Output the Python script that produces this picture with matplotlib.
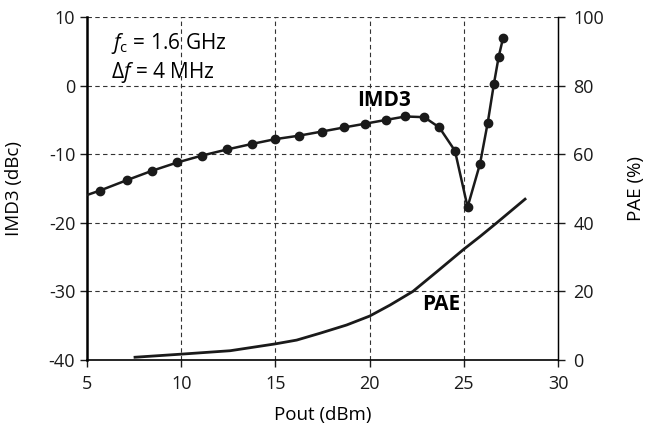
import numpy as np
import matplotlib
matplotlib.use("Agg")
import matplotlib.pyplot as plt

plt.rcParams['font.family'] = ['Open Sans', 'DejaVu Sans']
plt.rcParams['axes.unicode_minus'] = False
plt.rcParams['mathtext.fontset'] = 'custom'
plt.rcParams['mathtext.rm'] = 'Open Sans'
plt.rcParams['mathtext.it'] = 'Open Sans:italic'

# IMD3 (dBc) vs Pout (dBm), marked points
pout_imd = [5.69, 7.1, 8.47, 9.8, 11.1, 12.45, 13.76, 15.0, 16.25, 17.46, 18.64,
            19.77, 20.87, 21.9, 22.9, 23.7, 24.53, 25.2, 25.86, 26.27, 26.6,
            26.85, 27.08]
imd3 = [-15.3, -13.8, -12.4, -11.2, -10.2, -9.3, -8.5, -7.8, -7.3, -6.7, -6.1,
        -5.55, -5.0, -4.5, -4.6, -6.1, -9.5, -17.7, -11.4, -5.4, 0.3,
        4.2, 6.9]
# line continues to the left edge
imd_start = (5.0, -15.95)

# PAE (%) vs Pout (dBm)
pout_pae = [7.55, 10, 12.6, 15, 16.13, 17.37, 18.78, 20, 21.08, 22.3, 23.56,
            25, 25.86, 26.75, 28.25]
pae = [0.8, 1.7, 2.7, 4.7, 5.8, 7.8, 10.2, 12.8, 16.0, 20.0, 25.7,
       32.3, 36.0, 40.0, 46.9]

fig = plt.figure(figsize=(6.5, 4.32), dpi=100)
ax = fig.add_axes([0.1338, 0.1667, 0.7247, 0.7939])
ax2 = ax.twinx()

ax.set_xlim(5, 30)
ax.set_ylim(-40, 10)
ax2.set_ylim(0, 100)

ax.set_xticks([5, 10, 15, 20, 25, 30])
ax.set_yticks([-40, -30, -20, -10, 0, 10])
ax2.set_yticks([0, 20, 40, 60, 80, 100])

# dashed grid
for xv in [10, 15, 20, 25]:
    ax.axvline(xv, color='#333333', lw=0.8, ls=(0, (4, 3)), zorder=0)
for yv in [-30, -20, -10, 0, 10]:
    ax.axhline(yv, color='#333333', lw=0.8, ls=(0, (4, 3)), zorder=0)

ax.plot([imd_start[0]] + pout_imd, [imd_start[1]] + imd3, color='#1a1a1a',
        lw=1.8, zorder=3)
ax.plot(pout_imd, imd3, 'o', color='#1a1a1a', ms=6, zorder=4)
ax2.plot(pout_pae, pae, color='#1a1a1a', lw=2.0)

for a in (ax, ax2):
    a.spines['top'].set_visible(False)
ax.spines['left'].set_linewidth(1.8)
ax.spines['bottom'].set_linewidth(1.2)
ax2.spines['left'].set_visible(False)
ax2.spines['bottom'].set_visible(False)
ax2.spines['right'].set_linewidth(1.0)

ax.tick_params(axis='both', direction='out', length=5, width=1, labelsize=13,
               colors='#1a1a1a')
ax.tick_params(axis='x', pad=6)
ax2.tick_params(axis='y', direction='out', length=5, width=1, labelsize=13,
                colors='#1a1a1a', pad=6)

ax.set_xlabel('Pout (dBm)', fontsize=13.5, va='center')
ax.xaxis.set_label_coords(0.5, -0.16)
ax.set_ylabel('IMD3 (dBc)', fontsize=13.5, va='center')
ax.yaxis.set_label_coords(-0.155, 0.5)
ax2.set_ylabel('PAE (%)', fontsize=13.5, va='center')
ax2.yaxis.set_label_coords(1.166, 0.5)

ax.text(6.27, 6.1, r'$f_\mathrm{c}$ = 1.6 GHz', fontsize=15, va='center')
ax.text(6.27, 1.9, r'$\Delta f$ = 4 MHz', fontsize=15, va='center')
ax.text(19.33, -2.1, 'IMD3', fontsize=15, fontweight='bold', va='center')
ax2.text(22.78, 16.3, 'PAE', fontsize=15, fontweight='bold', va='center')

fig.savefig('out.png', dpi=100)
